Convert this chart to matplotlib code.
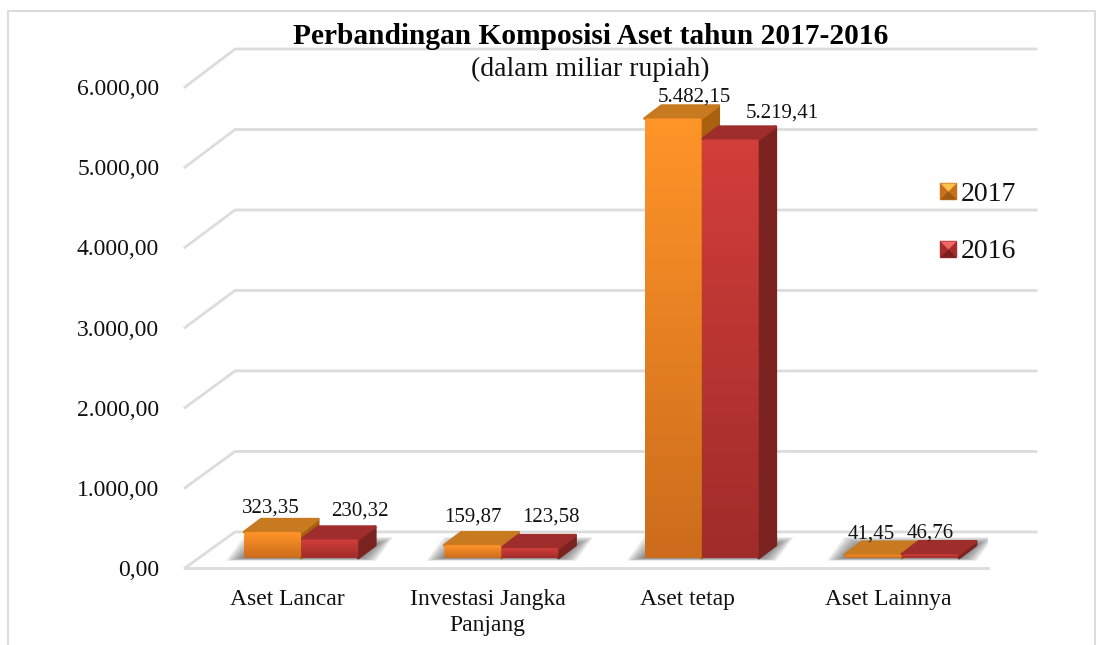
import numpy as np
from matplotlib import pyplot as plt
from matplotlib.colors import to_rgb
from matplotlib.lines import Line2D
from matplotlib.legend_handler import HandlerTuple
from matplotlib.patches import FancyBboxPatch, Polygon

categories = ['Aset Lancar', 'Investasi Jangka\nPanjang', 'Aset tetap', 'Aset Lainnya']
values_2017 = [323.35, 159.87, 5482.15, 41.45]
values_2016 = [230.32, 123.58, 5219.41, 46.76]
labels_2017 = ['323,35', '159,87', '5.482,15', '41,45']
labels_2016 = ['230,32', '123,58', '5.219,41', '46,76']
y_ticks = [0, 1000, 2000, 3000, 4000, 5000, 6000]
y_tick_labels = ['0,00', '1.000,00', '2.000,00', '3.000,00', '4.000,00', '5.000,00', '6.000,00']

# label nudges from the middle of the bar front, in pixels
nudge_2017 = [(-2, 24), (0, 28), (21, 21), (-2, 21)]
nudge_2016 = [(30, 28), (21, 31), (52, 27), (0, 21)]

W, H = 1096, 645
plt.rcParams['font.family'] = ['Liberation Serif', 'DejaVu Serif']

fig = plt.figure(figsize=(W / 100, H / 100), dpi=100)
# front plane of the fake 3d box, in pixels: x 187-988, y 568-87
ax = fig.add_axes([187 / W, 1 - 568 / H, 801 / W, 481 / H])
for s in ax.spines.values():
    s.set_visible(False)

px_x = 4 / 801
px_y = 6000 / 481

# offsets of the depth, in data units
wall_dx, wall_dy = 0.24, 450
wall_scale = 1.004
bar_x, bar_y = 0.07, 125
side_dx, side_dy = 0.085, 160
bar_w = 0.285

grid_col = '#dcdcdc'
for t in y_ticks:
    ax.plot([-0.01, wall_dx, 4 + wall_dx], [t, t * wall_scale + wall_dy, t * wall_scale + wall_dy],
            color=grid_col, lw=2, clip_on=False, zorder=1, solid_joinstyle='round')
ax.plot([-0.01, 4.0], [0, 0], color=grid_col, lw=2, clip_on=False, zorder=1)


def draw_bar(x, val, top_col, side_col, grad_top, grad_bottom):
    y0 = bar_y
    y1 = bar_y + val
    side = [(x + bar_w, y0), (x + bar_w + side_dx, y0 + side_dy),
            (x + bar_w + side_dx, y1 + side_dy), (x + bar_w, y1)]
    top = [(x, y1), (x + side_dx, y1 + side_dy), (x + bar_w + side_dx, y1 + side_dy), (x + bar_w, y1)]
    ax.add_patch(Polygon(side, closed=True, fc=side_col, ec=side_col, lw=2, joinstyle='round', zorder=4))
    ax.add_patch(Polygon(top, closed=True, fc=top_col, ec=top_col, lw=2, joinstyle='round', zorder=4))
    # front face with vertical gradient, corners rounded by the clip patch
    c0 = np.array(to_rgb(grad_top))
    c1 = np.array(to_rgb(grad_bottom))
    f = np.linspace(0, 1, 64)[:, None, None]
    img = c0[None, None, :] * (1 - f) + c1[None, None, :] * f
    im = ax.imshow(img, extent=(x, x + bar_w, y0, y1), origin='upper', aspect='auto', zorder=5)
    box = FancyBboxPatch((x, y0), bar_w, val, boxstyle='round,pad=0,rounding_size=%f' % (2 * px_x),
                         mutation_aspect=px_y / px_x, fc='none', ec='none', zorder=5)
    ax.add_patch(box)
    im.set_clip_path(box)


def draw_shadow(x, w):
    # soft shadow lying on the floor under a group of bars
    for k in range(8, 0, -1):
        g = 2.2 * k
        sh = [(x - g * px_x, bar_y - 0.15 * g * px_y),
              (x + w + g * px_x, bar_y - 0.15 * g * px_y),
              (x + w + side_dx + g * px_x, bar_y + side_dy + 0.45 * g * px_y),
              (x + side_dx - g * px_x, bar_y + side_dy + 0.45 * g * px_y)]
        ax.add_patch(Polygon(sh, closed=True, fc='#444444', ec='none', alpha=0.11, zorder=2))


for i in range(len(categories)):
    x = i + 0.5 + bar_x - bar_w
    draw_shadow(x, 2 * bar_w)
    draw_bar(x, values_2017[i], '#c77a1f', '#a9610f', '#ff9428', '#cc6c1c')
    draw_bar(x + bar_w, values_2016[i], '#9e2d2b', '#7b2320', '#d23e3a', '#a02c2a')
    ax.annotate(labels_2017[i], (x + bar_w / 2, bar_y + values_2017[i]),
                xytext=(nudge_2017[i][0] * 0.72, nudge_2017[i][1] * 0.72), textcoords='offset points',
                ha='center', va='center', fontsize=15, color='#111111', zorder=8)
    ax.annotate(labels_2016[i], (x + 1.5 * bar_w, bar_y + values_2016[i]),
                xytext=(nudge_2016[i][0] * 0.72, nudge_2016[i][1] * 0.72), textcoords='offset points',
                ha='center', va='center', fontsize=15, color='#111111', zorder=8)

ax.set_xlim(0, 4)
ax.set_ylim(0, 6000)
ax.set_xticks([0.5, 1.5, 2.5, 3.5])
ax.set_xticklabels(categories, fontsize=17, color='#111111', linespacing=1.35)
ax.set_yticks(y_ticks)
ax.set_yticklabels(y_tick_labels, fontsize=17, color='#111111')
ax.tick_params(axis='x', length=0, pad=15)
ax.tick_params(axis='y', length=0, pad=20)

# outer frame, open at the bottom
fig.add_artist(Line2D([8 / W, 8 / W, 1095 / W, 1095 / W], [0, 1 - 11 / H, 1 - 11 / H, 0],
                      color='#dcdcdc', lw=1.5))

fig.text(591 / W, 1 - 37 / H, 'Perbandingan Komposisi Aset tahun 2017-2016',
         ha='center', va='center', fontsize=21.2, fontweight='bold', color='black')
fig.text(590 / W, 1 - 69 / H, '(dalam miliar rupiah)', ha='center', va='center', fontsize=20, color='#111111')

tri_up = [(-1, 1), (1, 1), (0, 0)]
tri_down = [(-1, -1), (1, -1), (0, 0)]
h17 = (Line2D([], [], marker='s', ms=11.5, color='#c8701c', ls='none'),
       Line2D([], [], marker=tri_down, ms=11.5, color='#9c5a16', ls='none', mew=0),
       Line2D([], [], marker=tri_up, ms=11.5, color='#ffc24d', ls='none', mew=0))
h16 = (Line2D([], [], marker='s', ms=11.5, color='#a52d2b', ls='none'),
       Line2D([], [], marker=tri_down, ms=11.5, color='#7a1f1f', ls='none', mew=0),
       Line2D([], [], marker=tri_up, ms=11.5, color='#f0686a', ls='none', mew=0))
fig.legend([h17, h16], ['2017', '2016'], handler_map={tuple: HandlerTuple(ndivide=1, pad=0)},
           loc='center left', bbox_to_anchor=(920 / W, 1 - 223 / H), frameon=False, fontsize=20,
           handlelength=1.0, handletextpad=-0.04, labelspacing=1.15, borderpad=0, labelcolor='#111111')

plt.savefig('out.png', dpi=100, facecolor='white')
plt.close()
